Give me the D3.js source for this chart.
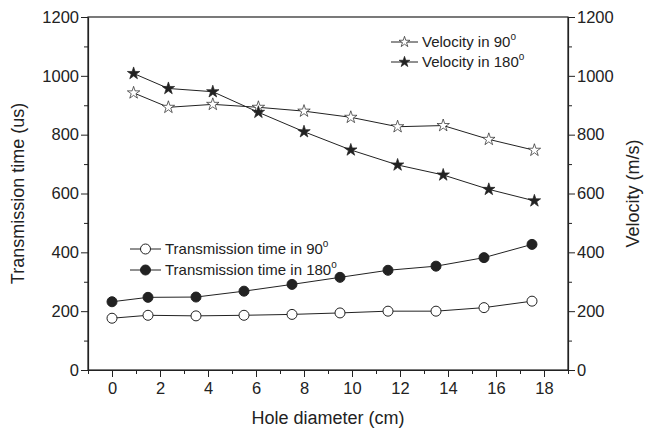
<!DOCTYPE html>
<html>
<head>
<meta charset="utf-8">
<script src="https://cdn.jsdelivr.net/npm/d3@7"></script>
<style>
  body { margin: 0; background: #fff; }
  svg { font-family: 'Liberation Sans', Arial, sans-serif; }
</style>
</head>
<body>
<svg id="chart" width="646" height="435"></svg>
<script>
// transmission time series (us)
const timeX = [0, 1.5, 3.5, 5.5, 7.5, 9.5, 11.5, 13.5, 15.5, 17.5];
const time90 = [176, 186, 184, 186, 189, 194, 200, 200, 212, 234];
const time180 = [232, 247, 248, 268, 291, 315, 339, 353, 382, 427];

// velocity series (m/s)
const velX = [0.9, 2.35, 4.2, 6.1, 8.0, 9.95, 11.9, 13.8, 15.7, 17.6];
const vel90 = [942, 893, 903, 893, 880, 859, 827, 831, 784, 747];
const vel180 = [1008, 957, 946, 876, 810, 748, 697, 663, 614, 575];

const xTicks = [0, 2, 4, 6, 8, 10, 12, 14, 16, 18];
const yTicks = [0, 200, 400, 600, 800, 1000, 1200];

const svg = d3.select('#chart');
const margin = { top: 17, right: 78, bottom: 65, left: 88 };
const width = +svg.attr('width');
const height = +svg.attr('height');

const x = d3.scaleLinear().domain([-1, 19]).range([margin.left, width - margin.right]);
const yL = d3.scaleLinear().domain([0, 1200]).range([height - margin.bottom, margin.top]);
const yR = d3.scaleLinear().domain([0, 1200]).range([height - margin.bottom, margin.top]);

const tickFont = '16.5px';
const fmt = d3.format('d');

// frame
svg.append('rect')
  .attr('x', margin.left)
  .attr('y', margin.top)
  .attr('width', x.range()[1] - x.range()[0])
  .attr('height', yL.range()[0] - yL.range()[1])
  .attr('fill', 'none')
  .attr('stroke', '#222')
  .attr('stroke-width', 1.2);

const styleAxis = g => {
  g.select('.domain').attr('stroke', '#222').attr('stroke-width', 1.2);
  g.selectAll('.tick line').attr('stroke', '#222');
  g.selectAll('.tick text').attr('fill', '#222').style('font-size', tickFont);
};

// minor ticks
const minorX = d3.range(-1, 20, 1).filter(v => !xTicks.includes(v));
const minorY = d3.range(100, 1200, 200);

svg.append('g')
  .attr('transform', 'translate(0,' + (height - margin.bottom) + ')')
  .call(d3.axisBottom(x).tickValues(minorX).tickSize(4).tickFormat(''))
  .call(g => g.select('.domain').remove())
  .selectAll('line').attr('stroke', '#222');

svg.append('g')
  .attr('transform', 'translate(0,' + (height - margin.bottom) + ')')
  .call(d3.axisBottom(x).tickValues(xTicks).tickSize(7).tickSizeOuter(0).tickPadding(5).tickFormat(fmt))
  .call(styleAxis);

svg.append('g')
  .attr('transform', 'translate(' + margin.left + ',0)')
  .call(d3.axisLeft(yL).tickValues(minorY).tickSize(4).tickFormat(''))
  .call(g => g.select('.domain').remove())
  .selectAll('line').attr('stroke', '#222');

svg.append('g')
  .attr('transform', 'translate(' + margin.left + ',0)')
  .call(d3.axisLeft(yL).tickValues(yTicks).tickSize(7).tickSizeOuter(0).tickPadding(2).tickFormat(fmt))
  .call(styleAxis);

svg.append('g')
  .attr('transform', 'translate(' + (width - margin.right) + ',0)')
  .call(d3.axisRight(yR).tickValues(minorY).tickSize(4).tickFormat(''))
  .call(g => g.select('.domain').remove())
  .selectAll('line').attr('stroke', '#222');

svg.append('g')
  .attr('transform', 'translate(' + (width - margin.right) + ',0)')
  .call(d3.axisRight(yR).tickValues(yTicks).tickSize(7).tickSizeOuter(0).tickPadding(2).tickFormat(fmt))
  .call(styleAxis);

// axis titles
svg.append('text')
  .attr('x', (x.range()[0] + x.range()[1]) / 2)
  .attr('y', 424)
  .attr('text-anchor', 'middle')
  .style('font-size', '18px')
  .attr('fill', '#222')
  .text('Hole diameter (cm)');

svg.append('text')
  .attr('transform', 'translate(24,' + (yL(600)) + ') rotate(-90)')
  .attr('text-anchor', 'middle')
  .style('font-size', '18px')
  .attr('fill', '#222')
  .text('Transmission time (us)');

svg.append('text')
  .attr('transform', 'translate(639,' + (yR(600)) + ') rotate(-90)')
  .attr('text-anchor', 'middle')
  .style('font-size', '18px')
  .attr('fill', '#222')
  .text('Velocity (m/s)');

const star = d3.symbol().type(d3.symbolStar).size(48);
const smallStar = d3.symbol().type(d3.symbolStar).size(36);

const drawSeries = (xs, ys, yScale, marker, fill) => {
  const pts = xs.map((d, i) => [x(d), yScale(ys[i])]);
  svg.append('path')
    .attr('d', d3.line()(pts))
    .attr('fill', 'none')
    .attr('stroke', '#222')
    .attr('stroke-width', 1);
  const g = svg.append('g');
  if (marker === 'circle') {
    g.selectAll('circle').data(pts).join('circle')
      .attr('cx', d => d[0]).attr('cy', d => d[1]).attr('r', 5)
      .attr('fill', fill).attr('stroke', '#222').attr('stroke-width', 1);
  } else {
    g.selectAll('path').data(pts).join('path')
      .attr('d', star)
      .attr('transform', d => 'translate(' + d[0] + ',' + d[1] + ')')
      .attr('fill', fill).attr('stroke', '#222').attr('stroke-width', 0.7);
  }
};

drawSeries(timeX, time90, yL, 'circle', '#fff');
drawSeries(timeX, time180, yL, 'circle', '#222');
drawSeries(velX, vel90, yR, 'star', '#fff');
drawSeries(velX, vel180, yR, 'star', '#222');

// legends
const legend = (lx, ly, len, marker, fill, label) => {
  svg.append('line')
    .attr('x1', lx).attr('x2', lx + len).attr('y1', ly).attr('y2', ly)
    .attr('stroke', '#222');
  if (marker === 'circle') {
    svg.append('circle').attr('cx', lx + len / 2).attr('cy', ly).attr('r', 5)
      .attr('fill', fill).attr('stroke', '#222');
  } else {
    svg.append('path').attr('d', smallStar)
      .attr('transform', 'translate(' + (lx + len / 2) + ',' + ly + ')')
      .attr('fill', fill).attr('stroke', '#222').attr('stroke-width', 0.7);
  }
  const t = svg.append('text')
    .attr('x', lx + len + 4).attr('y', ly + 5)
    .style('font-size', '15px').attr('fill', '#222')
    .text(label);
  t.append('tspan').attr('dy', -7).style('font-size', '10px').text('o');
};

legend(391, 42, 27, 'star', '#fff', 'Velocity in 90');
legend(391, 62, 27, 'star', '#222', 'Velocity in 180');
legend(130, 249, 31, 'circle', '#fff', 'Transmission time in 90');
legend(130, 270, 31, 'circle', '#222', 'Transmission time in 180');
</script>
</body>
</html>
